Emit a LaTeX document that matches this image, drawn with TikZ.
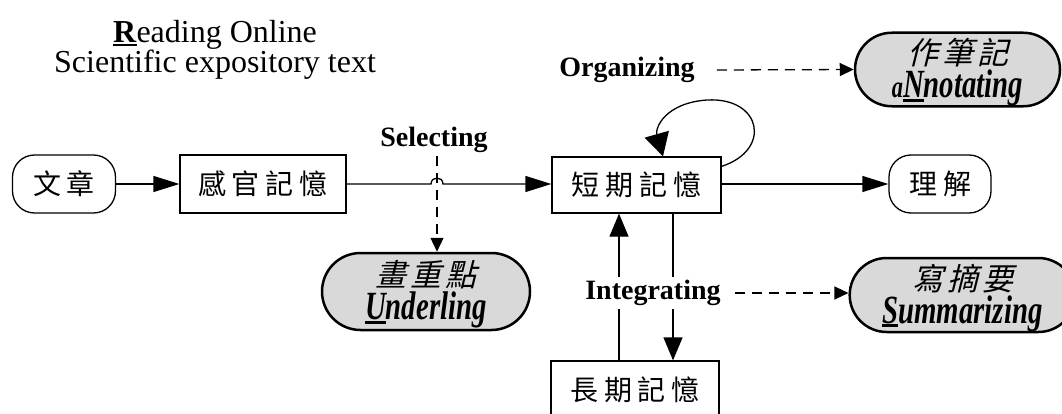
\documentclass[tikz,border=0pt]{standalone}
\usepackage{fontspec}
\setmainfont{Liberation Serif}
\newfontfamily\cjk{Noto Sans CJK TC}
\newfontfamily\cjki[FakeSlant=0.25]{Noto Sans CJK TC}
\newfontfamily\ovalfont[FakeStretch=0.72]{Liberation Serif}
\usetikzlibrary{arrows.meta,shapes.misc,calc}
\newcommand{\ulbig}[1]{\setbox0\hbox{#1}\rlap{\rule[-4pt]{\wd0}{2.8pt}}#1}
\newcommand{\cgap}{\hspace{6pt}}
\newcommand{\igap}{\hspace{4pt}}
\begin{document}
\begin{tikzpicture}[x=1pt,y=-1pt,
  box/.style={draw, line width=1.3pt, inner sep=0pt, font=\fontsize{28}{30}\selectfont\cjk},
  rbox/.style={box, rounded corners=22pt},
  oval/.style={draw, line width=2.5pt, fill=black!15, rounded rectangle, inner sep=0pt, align=center, font=\fontsize{31}{33}\selectfont\ovalfont\bfseries\itshape},
  lbl/.style={font=\fontsize{28}{30}\selectfont\bfseries, inner xsep=2pt, inner ysep=3pt},
  arr/.style={line width=1.3pt, -{Triangle[length=26pt,width=16pt]}},
  varr/.style={line width=1.3pt, -{Triangle[length=23pt,width=19pt]}},
  darr/.style={line width=1.3pt, dash pattern=on 10pt off 7pt, -{Triangle[length=14pt,width=13pt]}},
]
\useasboundingbox (0,0) rectangle (1062,414);

% title
\node[align=center, font=\fontsize{32}{29}\selectfont, inner sep=0pt] (title) at (215,50)
  {\ulbig{\textbf{R}}eading Online\\Scientific expository text};

% main nodes
\node[rbox, minimum width=103pt, minimum height=58pt] (wen) at (64,184) {文\cgap 章};
\node[box, minimum width=166pt, minimum height=58pt] (sense) at (263,184) {感\cgap 官\cgap 記\cgap 憶};
\node[box, minimum width=169pt, minimum height=56pt] (stm) at (636.5,185) {短\cgap 期\cgap 記\cgap 憶};
\node[rbox, minimum width=102pt, minimum height=58pt] (und) at (940,184) {理\cgap 解};
\node[box, minimum width=168pt, minimum height=58pt] (ltm) at (635,390) {長\cgap 期\cgap 記\cgap 憶};

% strategy ovals
\node[oval, minimum width=208pt, minimum height=77pt] (underl) at (426,291.5)
  {\rule{0pt}{32pt}{\mdseries\upshape\cjki 畫\igap 重\igap 點}\\\ulbig{\fontsize{40}{33}\selectfont U}nderling};
\node[oval, minimum width=205pt, minimum height=73pt] (annot) at (957.5,69.5)
  {\rule{0pt}{32pt}{\mdseries\upshape\cjki 作\igap 筆\igap 記}\\a\ulbig{\fontsize{40}{33}\selectfont N}notating};
\node[oval, minimum width=195pt, minimum height=74pt] (summ) at (962.5,295)
  {\rule{0pt}{32pt}{\mdseries\upshape\cjki 寫\igap 摘\igap 要}\\\ulbig{\fontsize{40}{33}\selectfont S}ummarizing};

% labels
\node[lbl] (sel) at (434,140) {Selecting};
\node[lbl] (org) at (627,70) {Organizing};

\coordinate (selx) at (437,0);
\coordinate (upx) at (619,0);
\coordinate (dnx) at (673,0);

% connectors
\draw[arr] (wen) -- (sense);
\draw[arr] (sense.east) -- ($(sense.east -| selx)+(-6,0)$)
  .. controls +(0,-8) and +(0,-8) .. ($(sense.east -| selx)+(6,0)$) -- (stm.west |- sense.east);
\draw[darr] (sel.south -| selx) -- (underl.north -| selx);
\draw[arr] (stm.east |- und.west) -- (und.west);
\draw[line width=1.3pt, -{Triangle[length=23pt,width=25pt]}]
  ($(stm.north east)+(0,10)$) .. controls (772,150) and (762,97) .. (707,100)
  .. controls (665,103) and (655,128) .. ($(stm.north)+(26.5,0)$);
\draw[darr] ($(org.east)+(20,0)$) -- (annot.west);

\draw[varr] (ltm.north -| upx) -- (stm.south -| upx);
\draw[varr] (stm.south -| dnx) -- (ltm.north -| dnx);
\node[lbl, fill=white] (int) at (653,293) {Integrating};
\draw[darr] ($(int.east)+(12,0)$) -- (int.east -| summ.west);
\end{tikzpicture}
\end{document}
